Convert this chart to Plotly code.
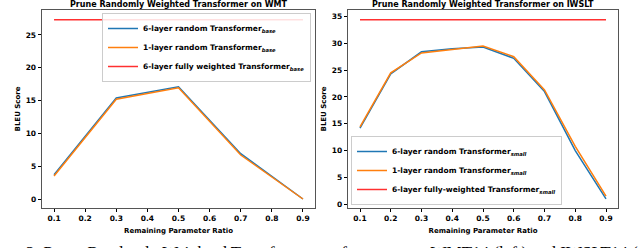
import plotly.graph_objects as go

# ---- data ----
wmt_x = [0.1, 0.3, 0.5, 0.7, 0.9]
wmt_6layer = [3.7, 15.4, 17.1, 6.9, 0.0]
wmt_1layer = [3.5, 15.2, 16.95, 6.7, 0.0]
wmt_full_x = [0.1, 0.9]
wmt_full = [27.3, 27.3]

iw_x = [0.1, 0.2, 0.3, 0.4, 0.5, 0.6, 0.7, 0.8, 0.9]
iw_6layer = [14.2, 24.3, 28.4, 29.0, 29.3, 27.2, 21.0, 10.0, 1.0]
iw_1layer = [14.4, 24.5, 28.2, 28.8, 29.5, 27.5, 21.3, 10.8, 1.5]
iw_full_x = [0.1, 0.9]
iw_full = [34.4, 34.4]

x_ticks = [0.1, 0.2, 0.3, 0.4, 0.5, 0.6, 0.7, 0.8, 0.9]
wmt_yticks = [0, 5, 10, 15, 20, 25]
iw_yticks = [0, 5, 10, 15, 20, 25, 30, 35]

title_left = "Prune Randomly Weighted Transformer on WMT"
title_right = "Prune Randomly Weighted Transformer on IWSLT"
xlabel = "Remaining Parameter Ratio"
ylabel = "BLEU Score"
caption = "2: Prune Randomly Weighted Transformer performance on WMT14 (left) and IWSLT14 (right)"

BLUE = "#1f77b4"
ORANGE = "#ff7f0e"
RED = "#ff3030"
FONT = "DejaVu Sans"

W, H = 640, 248
def px(x):
    return x / W
def py(y):
    return 1 - y / H

fig = go.Figure()

def lab(a, sub):
    return f"{a} Transformer<sub><i>{sub}</i></sub>"

# left panel
fig.add_trace(go.Scatter(x=wmt_x, y=wmt_6layer, mode="lines", line=dict(color=BLUE, width=1.5),
                         name=lab("6-layer random", "base"), xaxis="x", yaxis="y", legend="legend"))
fig.add_trace(go.Scatter(x=wmt_x, y=wmt_1layer, mode="lines", line=dict(color=ORANGE, width=1.5),
                         name=lab("1-layer random", "base"), xaxis="x", yaxis="y", legend="legend"))
fig.add_trace(go.Scatter(x=wmt_full_x, y=wmt_full, mode="lines", line=dict(color=RED, width=1.5),
                         name=lab("6-layer fully weighted", "base"), xaxis="x", yaxis="y", legend="legend"))

# right panel
fig.add_trace(go.Scatter(x=iw_x, y=iw_6layer, mode="lines", line=dict(color=BLUE, width=1.5),
                         name=lab("6-layer random", "small"), xaxis="x2", yaxis="y2", legend="legend2"))
fig.add_trace(go.Scatter(x=iw_x, y=iw_1layer, mode="lines", line=dict(color=ORANGE, width=1.5),
                         name=lab("1-layer random", "small"), xaxis="x2", yaxis="y2", legend="legend2"))
fig.add_trace(go.Scatter(x=iw_full_x, y=iw_full, mode="lines", line=dict(color=RED, width=1.5),
                         name=lab("6-layer fully-weighted", "small"), xaxis="x2", yaxis="y2", legend="legend2"))

tickfont = dict(family=FONT, size=7.5, color="black", weight="bold")
axfont = dict(family=FONT, size=7, color="black", weight="bold")

def xaxis(domain, anchor):
    return dict(domain=domain, anchor=anchor, range=[0.06, 0.94], tickvals=x_ticks, automargin=False,
                ticktext=[f"{v:.1f}" for v in x_ticks], ticks="outside", ticklen=3, tickcolor="black",
                showline=True, linecolor="#555", linewidth=1, mirror=True, showgrid=False, zeroline=False,
                tickfont=tickfont, title=dict(text=f"<b>{xlabel}</b>", font=axfont, standoff=6))

def yaxis(domain, anchor, rng, ticks):
    return dict(domain=domain, anchor=anchor, range=rng, tickvals=ticks, ticks="outside", ticklen=3,
                tickcolor="black", showline=True, linecolor="#555", linewidth=1, mirror=True, automargin=False,
                showgrid=False, zeroline=False, tickfont=tickfont,
                title=dict(text=f"<b>{ylabel}</b>", font=axfont, standoff=4))

ydom = [py(208), py(10)]
fig.update_layout(
    width=W, height=H, margin=dict(l=0, r=0, t=0, b=0, autoexpand=False),
    paper_bgcolor="white", plot_bgcolor="white",
    font=dict(family=FONT, color="black"),
    xaxis=xaxis([px(41.6), px(315.4)], "y"),
    yaxis=yaxis(ydom, "x", [-1.37, 28.8], wmt_yticks),
    xaxis2=xaxis([px(347.7), px(618.3)], "y2"),
    yaxis2=yaxis(ydom, "x2", [-0.7, 36.2], iw_yticks),
    legend=dict(x=px(311), y=py(13), xanchor="right", yanchor="top",
                bgcolor="rgba(255,255,255,0.85)", bordercolor="#ccc", borderwidth=1,
                font=dict(family=FONT, size=7.5, color="black", weight="bold"),
                itemwidth=30, tracegroupgap=0),
    legend2=dict(x=px(351), y=py(205), xanchor="left", yanchor="bottom",
                 bgcolor="rgba(255,255,255,0.85)", bordercolor="#ccc", borderwidth=1,
                 font=dict(family=FONT, size=7.5, color="black", weight="bold"),
                 itemwidth=30, tracegroupgap=0),
    showlegend=True,
    annotations=[
        dict(text=f"<b>{title_left}</b>", x=px((41.6 + 315.4) / 2), y=py(5), xref="paper", yref="paper",
             showarrow=False, font=dict(family=FONT, size=8, color="black"), xanchor="center", yanchor="middle"),
        dict(text=f"<b>{title_right}</b>", x=px((347.7 + 618.3) / 2), y=py(5), xref="paper", yref="paper",
             showarrow=False, font=dict(family=FONT, size=8, color="black"), xanchor="center", yanchor="middle"),
        dict(text=caption, x=px(24), y=py(241), xref="paper", yref="paper", showarrow=False,
             font=dict(family="Liberation Serif", size=17, color="black"), xanchor="left", yanchor="top"),
    ],
)

fig.write_html("out.html", config={"displayModeBar": False},
               post_script="document.body.style.margin='0';document.body.style.overflow='hidden';")
